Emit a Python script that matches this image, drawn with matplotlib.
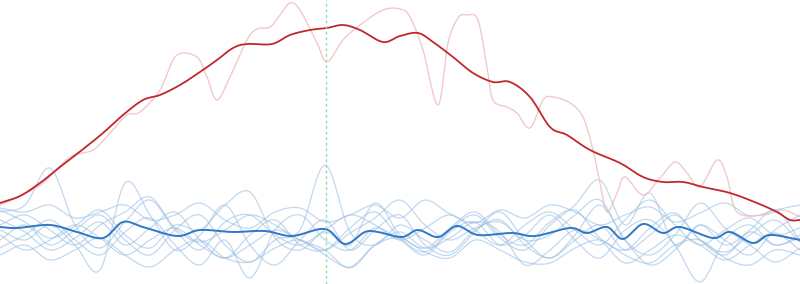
import numpy as np
from matplotlib import pyplot as plt

# x grid shared by the faint blue series (pixels across the chart)
grid_x = list(range(0, 801, 25))

# faint blue series (screen y, 0 = top)
blue_runs = [
    [212, 205, 168, 225, 248, 222, 200, 230, 250, 222, 215, 235, 245, 230, 215, 225, 240, 228, 215, 230, 245, 225, 212, 230, 245, 220, 200, 225, 245, 230, 218, 235, 228],
    [230, 240, 225, 245, 270, 183, 215, 250, 235, 205, 245, 265, 240, 220, 250, 230, 215, 245, 255, 232, 212, 240, 258, 235, 205, 240, 265, 250, 225, 245, 230, 210, 240],
    [240, 225, 245, 230, 215, 240, 255, 230, 215, 245, 262, 240, 230, 165, 232, 245, 225, 240, 252, 230, 220, 245, 258, 240, 225, 250, 235, 215, 240, 255, 232, 245, 238],
    [220, 232, 250, 238, 222, 245, 228, 212, 240, 258, 235, 220, 245, 250, 228, 212, 238, 252, 230, 215, 238, 250, 225, 205, 180, 225, 193, 245, 225, 240, 255, 230, 215],
    [248, 235, 220, 240, 255, 232, 218, 245, 265, 240, 278, 230, 215, 240, 250, 228, 240, 255, 232, 222, 245, 235, 215, 240, 258, 230, 220, 245, 282, 240, 225, 245, 235],
    [210, 222, 238, 226, 210, 235, 248, 225, 230, 205, 192, 238, 250, 232, 245, 203, 235, 248, 228, 212, 235, 245, 222, 210, 238, 250, 228, 213, 240, 252, 235, 220, 242],
    [255, 245, 260, 250, 238, 255, 267, 250, 240, 258, 262, 248, 240, 255, 267, 245, 238, 252, 258, 240, 250, 262, 263, 248, 240, 255, 263, 245, 240, 258, 265, 250, 255],
    [208, 212, 205, 218, 212, 205, 220, 215, 203, 220, 228, 212, 208, 222, 215, 205, 218, 200, 214, 223, 210, 218, 205, 212, 225, 215, 207, 222, 213, 203, 216, 210, 205],
    [235, 250, 240, 225, 238, 255, 240, 228, 245, 258, 245, 230, 240, 250, 268, 245, 232, 248, 238, 222, 232, 265, 250, 230, 240, 263, 250, 235, 245, 260, 245, 233, 250],
    [225, 215, 230, 245, 225, 212, 197, 228, 242, 230, 215, 225, 240, 250, 233, 218, 200, 225, 240, 228, 222, 240, 235, 215, 200, 240, 255, 235, 203, 228, 245, 262, 248],
]

# dark blue mean line
blue_x = [0, 17, 50, 77, 103, 123, 143, 177, 200, 233, 265, 292, 325, 345, 365, 378, 402, 418, 438, 457, 478, 512, 535, 570, 587, 607, 623, 643, 663, 680, 713, 730, 753, 770, 800]
blue_y = [227, 228, 225, 232, 238, 222, 227, 236, 230, 232, 231, 236, 229, 244, 232, 232, 237, 230, 237, 226, 235, 233, 236, 228, 233, 227, 239, 224, 233, 227, 238, 232, 243, 235, 240]

# faint red series
pink_x = [0, 20, 43, 70, 93, 110, 127, 140, 160, 173, 183, 198, 207, 217, 230, 247, 257, 270, 280, 290, 300, 317, 327, 343, 360, 383, 400, 410, 423, 438, 448, 458, 467, 478, 487, 493, 507, 517, 530, 543, 553, 570, 583, 593, 600, 607, 617, 625, 643, 660, 675, 687, 700, 717, 727, 737, 763, 783, 800]
pink_y = [205, 196, 183, 157, 150, 133, 115, 112, 90, 60, 53, 58, 77, 100, 77, 40, 29, 27, 15, 3, 10, 43, 62, 40, 25, 10, 9, 17, 50, 105, 43, 18, 15, 20, 67, 100, 107, 113, 128, 100, 97, 103, 117, 150, 183, 212, 193, 177, 195, 178, 162, 173, 187, 160, 177, 212, 215, 210, 217]

# dark red mean line
red_x = [0, 20, 40, 60, 82, 103, 123, 143, 160, 180, 200, 217, 233, 247, 272, 290, 310, 327, 343, 360, 383, 400, 418, 433, 453, 473, 493, 510, 530, 550, 567, 590, 620, 643, 663, 683, 703, 730, 757, 777, 790, 800]
red_y = [203, 196, 183, 167, 150, 133, 115, 100, 95, 85, 72, 60, 48, 44, 44, 35, 30, 28, 25, 30, 42, 36, 33, 42, 57, 73, 82, 82, 97, 127, 135, 150, 163, 177, 182, 182, 187, 193, 203, 212, 220, 220]

marker_x = 326


def smooth(x, y, n=12):
    # catmull-rom through the read points, just for a soft line
    x = np.asarray(x, float)
    y = np.asarray(y, float)
    px = np.concatenate([[2 * x[0] - x[1]], x, [2 * x[-1] - x[-2]]])
    py = np.concatenate([[2 * y[0] - y[1]], y, [2 * y[-1] - y[-2]]])
    t = np.linspace(0, 1, n, endpoint=False)
    xs, ys = [], []
    for i in range(1, len(px) - 2):
        for p, out in ((px, xs), (py, ys)):
            p0, p1, p2, p3 = p[i - 1], p[i], p[i + 1], p[i + 2]
            out.append(0.5 * (2 * p1 + (-p0 + p2) * t + (2 * p0 - 5 * p1 + 4 * p2 - p3) * t ** 2
                              + (-p0 + 3 * p1 - 3 * p2 + p3) * t ** 3))
    xs.append([x[-1]])
    ys.append([y[-1]])
    return np.concatenate(xs), np.concatenate(ys)


fig = plt.figure(figsize=(8, 2.84), dpi=100)
ax = fig.add_axes([0, 0, 1, 1])

for run in blue_runs:
    sx, sy = smooth(grid_x, run)
    ax.plot(sx, sy, color="#9bbfe4", lw=0.9, alpha=0.6)

sx, sy = smooth(pink_x, pink_y)
ax.plot(sx, sy, color="#efbcbc", lw=1.0, alpha=0.8)

sx, sy = smooth(blue_x, blue_y)
ax.plot(sx, sy, color="#2f78c8", lw=1.4)

sx, sy = smooth(red_x, red_y)
ax.plot(sx, sy, color="#c0282d", lw=1.3)

ax.axvline(marker_x, color="#8fdcb4", lw=1.0, ls=(0, (2, 2)))

ax.set_xlim(0, 800)
ax.set_ylim(284, 0)
ax.axis("off")

fig.savefig("out.png", dpi=100)
